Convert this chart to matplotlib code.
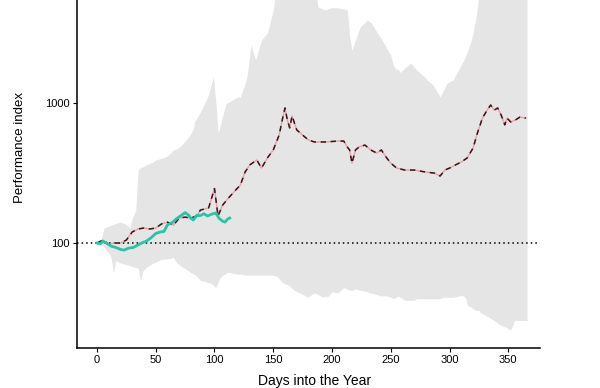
import matplotlib.pyplot as plt
import numpy as np

plt.rcParams['font.family'] = ['Liberation Sans', 'DejaVu Sans']

# envelope of past years (min / max)
band_days = [3, 6, 10, 12, 14, 16, 20, 25, 28, 30, 33, 35, 37, 39, 42, 48, 50, 54, 58, 60, 65, 68, 72, 77, 78,
             82, 83, 88, 93, 95, 96, 99, 101, 103, 104, 106, 110, 111, 115, 120, 122, 127, 128, 131, 135, 140,
             145, 150, 154, 158, 163, 168, 175, 179, 185, 188, 192, 195, 196, 200, 205, 210, 213, 215, 217,
             220, 224, 230, 232, 233, 237, 241, 245, 246, 250, 252, 255, 256, 258, 262, 267, 270, 272, 277,
             280, 281, 286, 292, 295, 298, 300, 303, 309, 312, 314, 315, 318, 320, 323, 325, 326, 332, 338,
             343, 348, 352, 354, 355, 360, 366]
band_hi = [100, 128, 132, 134, 136, 138, 141, 136, 128, 150, 172, 332, 345, 350, 361, 380, 392, 400, 411, 420,
           462, 470, 501, 560, 571, 650, 731, 862, 1050, 1150, 1239, 1534, 1050, 620, 640, 756, 1000, 1000,
           1050, 1104, 1104, 1459, 1600, 2596, 2028, 2818, 3162, 4614, 7570, 7570, 7570, 7570, 7570, 7570,
           7570, 4850, 4700, 4614, 4700, 4800, 4770, 4700, 4614, 3000, 2390, 2818, 3490, 3915, 3800, 3790,
           3320, 2960, 2600, 2500, 2200, 1870, 1720, 1750, 1650, 1778, 1930, 1800, 1720, 1585, 1500, 1459,
           1345, 1104, 1239, 1390, 1420, 1459, 1807, 2000, 2200, 2300, 2700, 3162, 4250, 6000, 7570, 7570,
           7570, 7570, 7570, 7570, 6500, 7570, 7570, 7570]
band_lo = [100, 94, 85, 79, 61, 75, 72, 70, 69, 68, 67, 66, 54, 63, 67, 72, 73, 76, 77, 77, 79, 72, 68, 64, 63,
           60, 60, 54, 53, 52, 52, 50, 48, 52, 55, 58, 61, 62, 61, 60, 60, 59, 59, 59, 59, 59, 59, 59, 57, 52,
           50, 46, 43, 41, 44, 43, 41, 42, 41, 45, 44, 48, 47, 46, 46, 47, 46, 45, 44, 44, 43, 42, 42, 42, 41,
           40, 41, 42, 41, 39, 39, 39, 40, 40, 40, 40, 40, 40, 41, 41, 41, 41, 42, 42, 40, 36, 35, 34, 33, 33,
           32, 30, 28, 26, 25, 24, 26, 28, 28, 28]

# median path
med_days = [0, 5, 10, 15, 20, 25, 30, 35, 40, 45, 50, 55, 60, 65, 70, 75, 80, 85, 88, 95, 100, 103, 107, 112,
            118, 122, 126, 130, 136, 140, 145, 150, 155, 158, 160, 162, 164, 166, 170, 175, 180, 185, 195,
            205, 210, 213, 215, 217, 220, 223, 228, 233, 238, 242, 246, 250, 255, 262, 270, 280, 287, 292,
            296, 300, 305, 310, 315, 320, 324, 328, 332, 335, 338, 341, 344, 347, 349, 352, 356, 360, 365]
med_vals = [100, 105, 98, 100, 100, 105, 120, 126, 128, 126, 128, 137, 141, 134, 151, 153, 151, 156, 172, 178,
            245, 156, 187, 210, 239, 259, 321, 361, 392, 343, 405, 462, 590, 780, 922, 756, 664, 808, 642,
            590, 544, 527, 527, 535, 535, 485, 462, 372, 462, 485, 501, 462, 439, 462, 411, 372, 343, 332,
            332, 321, 316, 301, 332, 343, 361, 379, 405, 476, 620, 780, 890, 967, 890, 922, 818, 698, 780,
            732, 756, 794, 780]

# current year
cur_days = [0, 3, 5, 8, 12, 16, 20, 23, 27, 31, 35, 38, 42, 46, 50, 54, 57, 60, 64, 68, 72, 75, 78, 80, 82,
            85, 88, 91, 94, 97, 101, 104, 107, 109, 111, 113]
cur_vals = [100, 99, 103, 100, 95, 93, 90, 89, 92, 93, 97, 100, 103, 109, 117, 120, 121, 135, 140, 150, 158,
            165, 158, 150, 146, 158, 157, 162, 156, 160, 164, 150, 143, 141, 148, 151]

fig = plt.figure(figsize=(6, 3.88), dpi=100)
ax = fig.add_axes([77 / 600, 40 / 388, 463 / 600, 348 / 388])

ax.fill_between(band_days, band_lo, band_hi, color='#e5e5e5', linewidth=0)
ax.axhline(100, color='black', linestyle=(0, (1, 2)), linewidth=1.1)
ax.plot(med_days, med_vals, color='#e8a0a8', linewidth=1.0)
ax.plot(med_days, med_vals, color='#3a1418', linewidth=1.1, linestyle=(0, (3.5, 3)))
ax.plot(cur_days, cur_vals, color='#27c4a8', linewidth=2.0)

ax.set_yscale('log')
ax.set_ylim(17.8, 5440)
ax.set_xlim(-17, 377)
ax.set_xticks([0, 50, 100, 150, 200, 250, 300, 350])
ax.set_yticks([100, 1000])
ax.set_yticklabels(['100', '1000'])
ax.minorticks_off()
ax.tick_params(axis='both', labelsize=8, length=3, width=0.8, colors='black', pad=2)

for side in ['top', 'right']:
    ax.spines[side].set_visible(False)
for side in ['left', 'bottom']:
    ax.spines[side].set_linewidth(1.1)

ax.set_xlabel('Days into the Year', fontsize=10)
ax.set_ylabel('Performance index', fontsize=9.5)
ax.yaxis.set_label_coords(-0.11, 0.575)
ax.xaxis.set_label_coords(0.514, -0.075)

fig.savefig('out.png', dpi=100)
